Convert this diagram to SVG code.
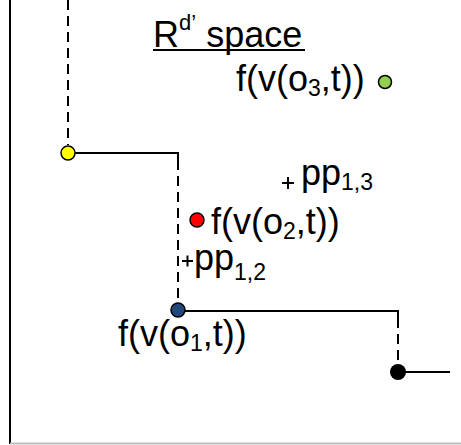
<svg xmlns="http://www.w3.org/2000/svg" width="461" height="445" viewBox="0 0 461 445">
<style>
text{font-family:"Liberation Sans",Arial,sans-serif;fill:#000}
.t{font-size:36px}
.sub{font-size:23px}
.ln{stroke:#000;stroke-width:2;fill:none}
.ds{stroke:#000;stroke-width:2;fill:none;stroke-dasharray:10,6}
.pt{stroke:#000;stroke-width:1.5}
.pl{stroke:#000;stroke-width:2}
</style>
<rect width="461" height="445" fill="#fff"/>
<g id="axes">
<line x1="10" y1="0" x2="10" y2="444" class="ln"/>
<line x1="10" y1="443.5" x2="461" y2="443.5" stroke="#bfbfbf" stroke-width="2"/>
</g>
<g id="connectors">
<line x1="68" y1="0" x2="68" y2="145" class="ds"/>
<polyline points="68,153 178,153 178,160" class="ln"/>
<line x1="178" y1="160" x2="178" y2="303" class="ds"/>
<polyline points="178,311 398,311 398,318" class="ln"/>
<line x1="398" y1="318" x2="398" y2="372" class="ds"/>
<line x1="398" y1="372" x2="450" y2="372" class="ln"/>
</g>
<g id="title">
<text x="153" y="47" class="t">R<tspan font-size="22" dy="-17">d’</tspan><tspan dy="17"> space</tspan></text>
<line x1="153" y1="50" x2="305" y2="50" stroke="#000" stroke-width="2"/>
</g>
<g id="node-o3">
<circle cx="385" cy="82" r="6.5" fill="#92d050" class="pt"/>
<text x="236" y="91" class="t">f(v(o<tspan class="sub" dy="5">3</tspan><tspan dy="-5">,t))</tspan></text>
</g>
<g id="node-yellow">
<circle cx="68" cy="153" r="7" fill="#ffff00" class="pt"/>
</g>
<g id="node-pp13">
<path d="M282 183h12M288 177v12" class="pl"/>
<text x="301" y="185" class="t">pp<tspan class="sub" dy="5">1,3</tspan></text>
</g>
<g id="node-o2">
<circle cx="197" cy="220" r="7" fill="#ff0000" class="pt"/>
<text x="211" y="234" class="t">f(v(o<tspan class="sub" dy="5">2</tspan><tspan dy="-5">,t))</tspan></text>
</g>
<g id="node-pp12">
<path d="M182 261h11M187.5 255.5v11" class="pl"/>
<text x="194" y="270" class="t">pp<tspan class="sub" dy="10">1,2</tspan></text>
</g>
<g id="node-o1">
<circle cx="178" cy="310" r="7" fill="#1f497d" class="pt"/>
<text x="118" y="346" class="t">f(v(o<tspan class="sub" dy="5">1</tspan><tspan dy="-5">,t))</tspan></text>
</g>
<g id="node-black">
<circle cx="398" cy="372" r="8" fill="#000"/>
</g>
</svg>
